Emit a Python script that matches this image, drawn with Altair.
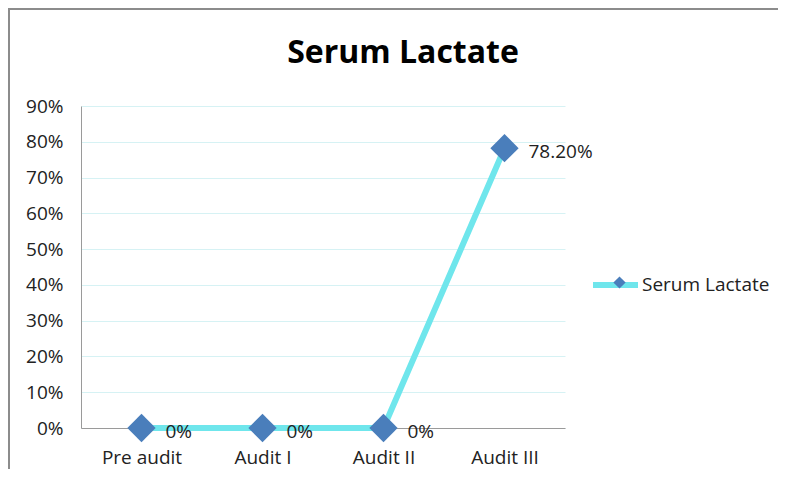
import altair as alt
import pandas as pd

categories = ["Pre audit", "Audit I", "Audit II", "Audit III"]
values = [0.0, 0.0, 0.0, 0.782]
value_labels = ["0%", "0%", "0%", "78.20%"]
series_name = "Serum Lactate"
y_ticks = [0, 0.1, 0.2, 0.3, 0.4, 0.5, 0.6, 0.7, 0.8, 0.9]

df = pd.DataFrame({
    "stage": categories,
    "value": values,
    "label": value_labels,
    "series": [series_name] * len(categories),
})

FONT = "Open Sans"
LINE_C = "#6FE6EC"
PT_C = "#4A7EBB"
FS = 19

x_enc = alt.X("stage:N", sort=categories, title=None,
              scale=alt.Scale(type="point", padding=0.5),
              axis=alt.Axis(labelAngle=0, ticks=False, domain=True, domainColor="#9A9A9A",
                            labelFont=FONT, labelFontSize=FS, labelColor="#222",
                            labelPadding=20, grid=False))
y_enc = alt.Y("value:Q", title=None,
              scale=alt.Scale(domain=[0, 0.9], nice=False),
              axis=alt.Axis(values=y_ticks, format=".0%", ticks=False, domain=True,
                            domainColor="#9A9A9A", gridColor="#D6F2F4", gridWidth=1,
                            labelFont=FONT, labelFontSize=FS, labelColor="#222",
                            labelPadding=18))

base = alt.Chart(df)

line = base.mark_line(strokeWidth=6).encode(
    x=x_enc, y=y_enc,
    stroke=alt.Stroke("series:N", scale=alt.Scale(range=[LINE_C]),
                      legend=alt.Legend(title=None, orient="none", legendX=509, legendY=153.5,
                                        symbolType="stroke", symbolSize=2025,
                                        symbolStrokeWidth=6, labelOffset=1, padding=0,
                                        labelFont=FONT, labelFontSize=FS, labelColor="#222")),
)

points = base.mark_point(filled=True, size=800, opacity=1, color=PT_C).encode(
    x=x_enc, y=y_enc,
    shape=alt.Shape("series:N", scale=alt.Scale(range=["diamond"]),
                    legend=alt.Legend(title=None, orient="none", legendX=529, legendY=167,
                                      symbolSize=150, symbolFillColor=PT_C,
                                      symbolStrokeColor=PT_C, symbolOpacity=1,
                                      labelExpr="''", padding=0, labelOffset=0,
                                      labelFont=FONT, labelFontSize=FS)),
)

texts = base.mark_text(align="left", baseline="middle", dx=24, dy=4,
                       font=FONT, fontSize=FS, color="#222").encode(
    x=x_enc, y=y_enc, text="label:N")

title = alt.Chart(pd.DataFrame({"t": [series_name]})).mark_text(
    font=FONT, fontSize=32, fontWeight="bold", color="#000",
    align="center", baseline="middle").encode(
    x=alt.value(322), y=alt.value(-53), text="t:N")

frame_top = alt.Chart(pd.DataFrame({"a": [0]})).mark_rule(color="#8C8C8C", strokeWidth=2).encode(
    x=alt.value(-73), x2=alt.value(720), y=alt.value(-97))
frame_left = alt.Chart(pd.DataFrame({"a": [0]})).mark_rule(color="#8C8C8C", strokeWidth=2).encode(
    x=alt.value(-72), y=alt.value(-97), y2=alt.value(380))

chart = alt.layer(frame_top, frame_left, title, line, points, texts).properties(
    width=484, height=322,
    autosize=alt.AutoSizeParams(type="none"),
    padding={"left": 73, "top": 98, "right": 213, "bottom": 41},
).configure_view(stroke=None).resolve_scale(shape="independent")

chart.save("out.html", embed_options={"renderer": "svg", "actions": False})
